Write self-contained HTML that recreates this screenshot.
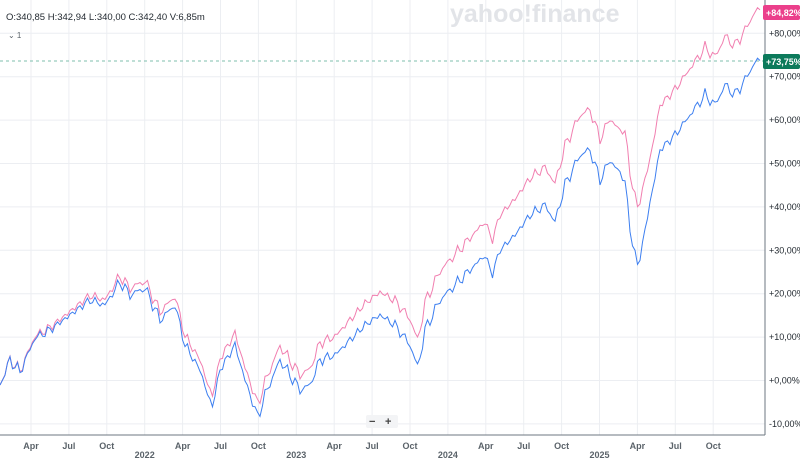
<!DOCTYPE html>
<html><head><meta charset="utf-8"><style>
body{margin:0;background:#fff;width:800px;height:460px;overflow:hidden;font-family:"Liberation Sans",sans-serif}
svg text{font-family:"Liberation Sans",sans-serif}
</style></head><body>
<svg id="s" width="800" height="460" xmlns="http://www.w3.org/2000/svg">
<g id="grid" stroke="#eceef2" stroke-width="1"></g>
<text x="450" y="22" font-size="25" font-weight="bold" fill="#e2e4e8">yahoo!finance</text>
<text x="6" y="20" font-size="9.5" fill="#232a31">O:340,85  H:342,94  L:340,00  C:342,40  V:6,85m</text>
<text x="8" y="38" font-size="8" fill="#5b636a">⌄ 1</text>
<line x1="0" y1="61" x2="765" y2="61" stroke="#7fbfae" stroke-dasharray="3,3"/>
<line x1="765" y1="0" x2="765" y2="435" stroke="#6e7780"/>
<line x1="0" y1="435" x2="765" y2="435" stroke="#6e7780"/>
<path id="pk" fill="none" stroke="#f17fb0" stroke-width="1"/>
<path id="bl" fill="none" stroke="#3d7ff0" stroke-width="1"/>
<g id="yl" font-size="9" fill="#232a31"></g>
<g id="xl" font-size="9" fill="#5b636a" font-weight="bold" text-anchor="middle"></g>
<rect x="763" y="5" width="37" height="15" rx="2" fill="#eb3f8b"/>
<text x="766" y="16" font-size="9" font-weight="bold" fill="#fff">+84,82%</text>
<rect x="763" y="54" width="37" height="15" rx="2" fill="#0c7a5b"/>
<text x="766" y="65" font-size="9" font-weight="bold" fill="#fff">+73,75%</text>
<rect x="366" y="415" width="32" height="13" fill="#f3f4f6" rx="2"/>
<text x="369" y="425" font-size="11" font-weight="bold" fill="#444">−</text>
<text x="385" y="425" font-size="11" font-weight="bold" fill="#444">+</text>
</svg>
<script>
var ns="http://www.w3.org/2000/svg",g=document.getElementById('grid'),yl=document.getElementById('yl'),xl=document.getElementById('xl');
function el(p,t,a,tx){var e=document.createElementNS(ns,t);for(var k in a)e.setAttribute(k,a[k]);if(tx)e.textContent=tx;p.appendChild(e);}
for(var i=-1;i<=8;i++){var y=380.5-i*43.4;el(g,'line',{x1:0,x2:765,y1:y,y2:y});el(yl,'text',{x:769,y:y+3},(i>=0?'+':'-')+Math.abs(i*10)+',00%');}
var labs=['Apr','Jul','Oct','2022','Apr','Jul','Oct','2023','Apr','Jul','Oct','2024','Apr','Jul','Oct','2025','Apr','Jul','Oct'];
for(var j=0;j<labs.length;j++){var x=31+j*37.9;el(g,'line',{x1:x,x2:x,y1:0,y2:435});
 if(labs[j].length==4){el(xl,'text',{x:x,y:458},labs[j]);}else el(xl,'text',{x:x,y:449},labs[j]);}
var P=[[0,385],[10,360],[20,372],[35,338],[50,330],[70,315],[90,300],[105,305],[120,282],[130,295],[145,288],[160,320],[175,305],[185,345],[200,370],[212,408],[220,370],[235,345],[245,380],[258,418],[265,395],[280,360],[290,375],[300,390],[310,385],[320,360],[335,355],[350,340],[365,325],[380,315],[395,325],[410,345],[418,368],[425,330],[440,300],[455,285],[470,270],[485,255],[492,275],[500,250],[515,235],[530,215],[545,205],[555,222],[565,185],[580,155],[590,150],[600,180],[610,160],[625,180],[630,230],[638,268],[645,230],[660,150],[675,135],[690,115],[705,95],[715,105],[725,85],[735,95],[745,80],[755,62],[762,60]];
function interp(x){for(var k=1;k<P.length;k++)if(x<=P[k][0]){var a=P[k-1],b=P[k],t=(x-a[0])/(b[0]-a[0]);return a[1]+t*(b[1]-a[1]);}return P[P.length-1][1];}
var db='',dp='';
for(var x=0;x<=762;x+=2.5){var n=Math.sin(x*1.7)*3+Math.sin(x*0.63)*2.5+Math.sin(x*3.1)*1.5;var y=interp(x)+n;
 var off=x<300?x*0.05:(x<500?15+(x-300)*0.1:35+(x-500)*0.06);if(x>620&&x<650)off+=15*Math.sin((x-620)/30*Math.PI);
 db+=(x?'L':'M')+x.toFixed(1)+' '+y.toFixed(1);dp+=(x?'L':'M')+x.toFixed(1)+' '+(y-off).toFixed(1);}
document.getElementById('bl').setAttribute('d',db);document.getElementById('pk').setAttribute('d',dp);
</script>
</body></html>
